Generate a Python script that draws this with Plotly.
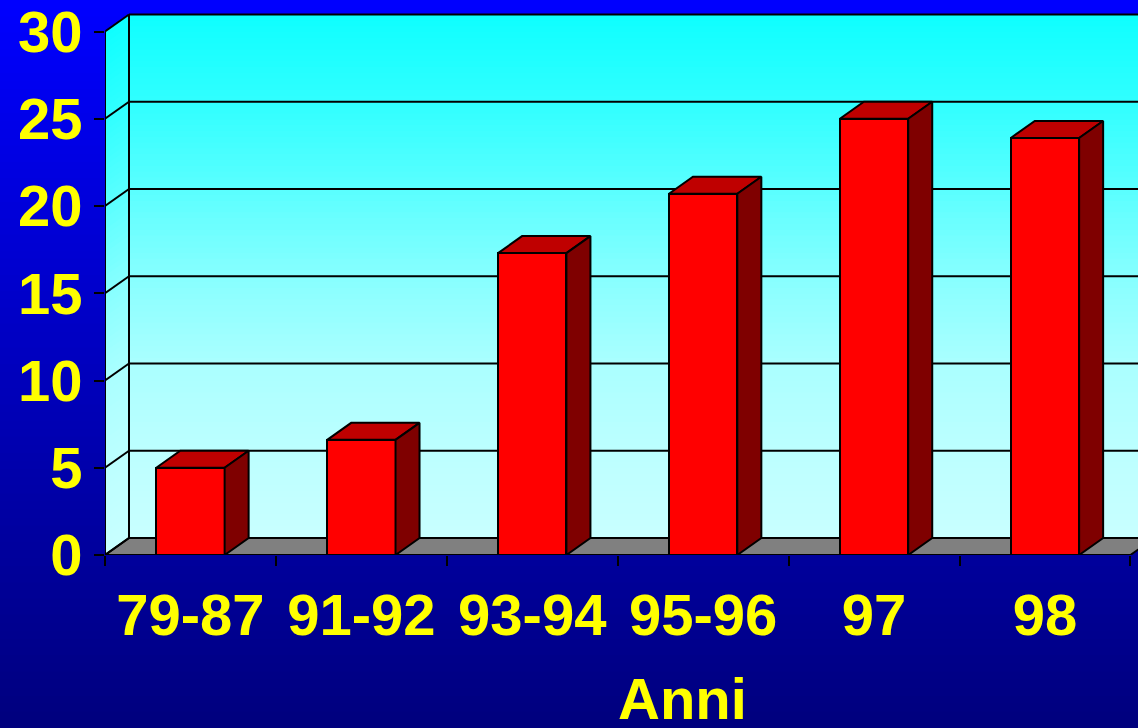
import numpy as np
import plotly.graph_objects as go

# ---- data ----
categories = ["79-87", "91-92", "93-94", "95-96", "97", "98"]
values = [5.0, 6.6, 17.3, 20.7, 25.0, 23.9]
y_ticks = [0, 5, 10, 15, 20, 25, 30]

# ---- geometry of the pseudo-3D box (data units) ----
W, H = 1138, 728
ML, MR, MT, MB = 105, 0, 0, 173
PLOT_W, PLOT_H = W - ML - MR, H - MT - MB
PX_PER_CAT = 170.9
PX_PER_UNIT = 17.45
X_LO = -0.5
X_HI = X_LO + PLOT_W / PX_PER_CAT
Y_HI = PLOT_H / PX_PER_UNIT
DX = 24 / PX_PER_CAT          # depth offset, x
DY = 17 / PX_PER_UNIT         # depth offset, y
BAR_W = 0.4
X_END = len(categories) - 0.5
Y_TOP = y_ticks[-1]

FONT = "Liberation Sans, Arial, Helvetica, sans-serif"
YELLOW = "#FFFF00"

shapes = []

# page background: vertical blue gradient (each band runs to the top so no seams show)
n_bg = 90
top_paper = 1 + MT / PLOT_H
bottom_paper = -MB / PLOT_H
for k in range(n_bg):
    t = (k + 0.5) / n_bg
    b = int(round(255 - (255 - 125) * (1 - t)))
    y_lo = bottom_paper + (top_paper - bottom_paper) * k / n_bg
    shapes.append(dict(type="rect", xref="paper", yref="paper",
                       x0=-ML / PLOT_W - 0.01, x1=1.01,
                       y0=y_lo if k else bottom_paper - 0.01, y1=top_paper + 0.01,
                       fillcolor=f"rgb(0,0,{b})", line=dict(width=0), layer="below"))

# wall gradient (cyan, lighter toward the floor)
anchor_t = [0, 1/6, 2/6, 3/6, 4/6, 5/6, 1]
anchor_r = [14, 48, 90, 135, 170, 188, 200]


def wall_color(v):
    t = 1 - v / Y_TOP
    r = int(round(np.interp(t, anchor_t, anchor_r)))
    return f"rgb({r},255,255)"


n_wall = 90
for k in range(n_wall):
    v0 = Y_TOP * k / n_wall
    v1 = Y_TOP * (k + 1) / n_wall
    c = wall_color((v0 + v1) / 2)
    # back wall band, reaching up to the top edge
    shapes.append(dict(type="rect", xref="x", yref="y",
                       x0=X_LO + DX, x1=X_HI + 1, y0=v0 + DY, y1=Y_TOP + DY,
                       fillcolor=c, line=dict(width=0), layer="below"))
    # side wall band
    shapes.append(dict(type="path", xref="x", yref="y",
                       path=f"M {X_LO},{v0} L {X_LO},{Y_TOP} "
                            f"L {X_LO + DX},{Y_TOP + DY} L {X_LO + DX},{v0 + DY} Z",
                       fillcolor=c, line=dict(width=0), layer="below"))

# floor
shapes.append(dict(type="path", xref="x", yref="y",
                   path=f"M {X_LO},0 L {X_END},0 L {X_END + DX},{DY} L {X_LO + DX},{DY} Z",
                   fillcolor="#808080", line=dict(color="black", width=2), layer="below"))

# gridlines on back and side walls
for v in y_ticks:
    shapes.append(dict(type="line", xref="x", yref="y",
                       x0=X_LO + DX, x1=X_HI + 1, y0=v + DY, y1=v + DY,
                       line=dict(color="black", width=2), layer="below"))
    shapes.append(dict(type="line", xref="x", yref="y",
                       x0=X_LO, x1=X_LO + DX, y0=v, y1=v + DY,
                       line=dict(color="black", width=2), layer="below"))

# vertical box edges
shapes.append(dict(type="line", xref="x", yref="y", x0=X_LO, x1=X_LO, y0=0, y1=Y_TOP,
                   line=dict(color="black", width=2), layer="below"))
shapes.append(dict(type="line", xref="x", yref="y", x0=X_LO + DX, x1=X_LO + DX,
                   y0=DY, y1=Y_TOP + DY, line=dict(color="black", width=2), layer="below"))

fig = go.Figure()

# front faces of the columns
fig.add_trace(go.Bar(
    x=list(range(len(categories))), y=values, width=BAR_W,
    marker=dict(color="#FF0000", line=dict(color="black", width=2)),
    hoverinfo="skip", showlegend=False,
))

# top and side faces of the columns
for i, v in enumerate(values):
    xl, xr = i - BAR_W / 2, i + BAR_W / 2
    fig.add_trace(go.Scatter(
        x=[xl, xr, xr + DX, xl + DX, xl], y=[v, v, v + DY, v + DY, v],
        mode="lines", fill="toself", fillcolor="#BF0000",
        line=dict(color="black", width=2), hoverinfo="skip", showlegend=False,
    ))
    fig.add_trace(go.Scatter(
        x=[xr, xr, xr + DX, xr + DX, xr], y=[0, v, v + DY, DY, 0],
        mode="lines", fill="toself", fillcolor="#7F0000",
        line=dict(color="black", width=2), hoverinfo="skip", showlegend=False,
    ))

fig.update_layout(
    width=W, height=H,
    margin=dict(l=ML, r=MR, t=MT, b=MB, pad=0),
    paper_bgcolor="#0000C0",
    plot_bgcolor="rgba(0,0,0,0)",
    shapes=shapes,
    bargap=0,
    xaxis=dict(
        range=[X_LO, X_HI], showgrid=False, zeroline=False, showline=False,
        tickmode="array", tickvals=list(range(len(categories))), ticktext=categories,
        ticks="", tickfont=dict(family=FONT, size=58, color=YELLOW, weight="bold"),
        ticklabelstandoff=21, ticklabeloverflow="allow",
        minor=dict(tickmode="array", tickvals=[k - 0.5 for k in range(len(categories) + 1)],
                   ticks="outside", ticklen=10, tickwidth=2, tickcolor="black"),
        fixedrange=True,
    ),
    yaxis=dict(
        range=[0, Y_HI], showgrid=False, zeroline=False, showline=False,
        tickmode="array", tickvals=y_ticks, ticks="outside", ticklen=10, tickwidth=2,
        tickcolor="black", ticklabelstandoff=0, ticklabeloverflow="allow",
        tickfont=dict(family=FONT, size=58, color=YELLOW, weight="bold"),
        fixedrange=True,
    ),
    annotations=[dict(
        text="Anni", xref="paper", yref="paper",
        x=(682 - ML) / PLOT_W, y=-(664 - PLOT_H) / PLOT_H,
        xanchor="center", yanchor="top", showarrow=False,
        font=dict(family=FONT, size=58, color=YELLOW, weight="bold"),
    )],
)

fig.write_html("out.html")
